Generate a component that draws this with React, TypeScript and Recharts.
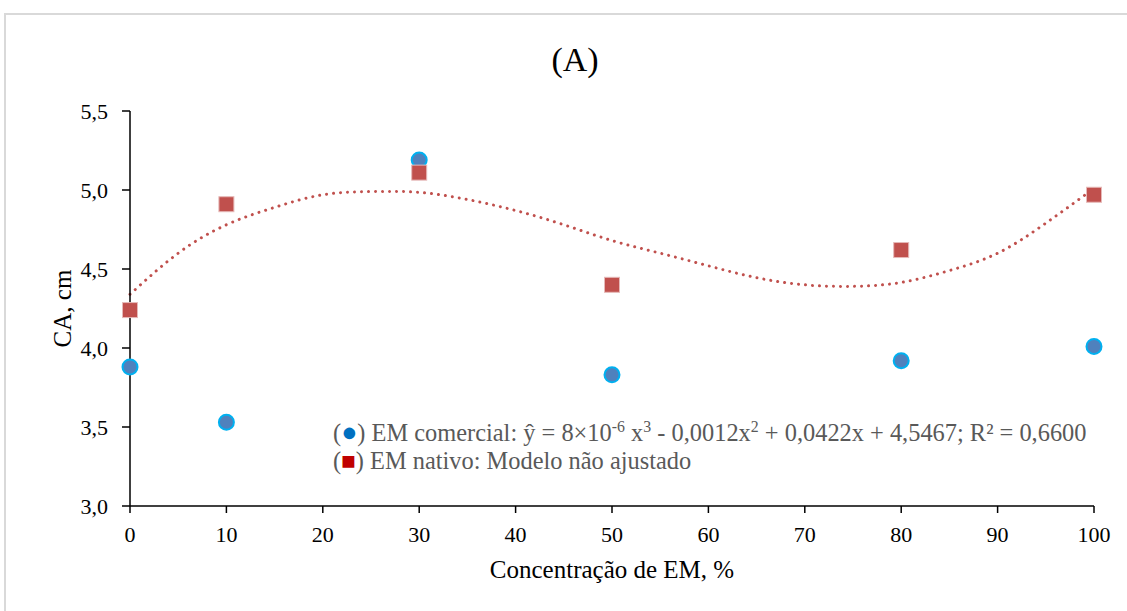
import { ComposedChart, Line, Scatter, XAxis, YAxis, Label } from 'recharts'

// doses tested (% EM)
const doses = [0, 10, 30, 50, 80, 100]
// CA (cm) per dose
const comercial = [3.88, 3.53, 5.19, 3.83, 3.92, 4.01]
const nativo = [4.24, 4.91, 5.11, 4.40, 4.62, 4.97]

// dotted trend curve
const trendX = [0, 5, 10, 15, 20, 25, 30, 35, 40, 45, 50, 55, 60, 65, 70, 75, 80, 85, 90, 95, 100]
const trendY = [4.34, 4.60, 4.78, 4.89, 4.97, 4.99, 4.985, 4.94, 4.87, 4.78, 4.68, 4.60, 4.52, 4.445, 4.40, 4.39, 4.415, 4.49, 4.60, 4.79, 5.01]

const xTicks = [0, 10, 20, 30, 40, 50, 60, 70, 80, 90, 100]
const yTicks = [3.0, 3.5, 4.0, 4.5, 5.0, 5.5]

const comercialData = doses.map((x, i) => ({ x, y: comercial[i] }))
const nativoData = doses.map((x, i) => ({ x, y: nativo[i] }))
const trendData = trendX.map((x, i) => ({ x, y: trendY[i] }))

const FONT = 'Liberation Serif, Times New Roman, serif'

const BlueDot = (props: any) => {
  const { cx, cy } = props
  return <circle cx={cx} cy={cy} r={7.5} fill="#4F81BD" stroke="#00B0F0" strokeWidth={2} />
}

const RedSquare = (props: any) => {
  const { cx, cy } = props
  return <rect x={cx - 7.5} y={cy - 7.5} width={15} height={15} fill="#C0504D" stroke="#E6B9B8" strokeWidth={1} />
}

const fmt = (v: number) => v.toFixed(1).replace('.', ',')

const supStyle = { fontSize: '0.65em', lineHeight: 0 }

export default function App() {
  return (
    <div style={{ position: 'absolute', left: 0, top: 0, width: 1127, height: 611, overflow: 'hidden', background: '#fff', fontFamily: FONT }}>
      <div style={{ position: 'absolute', left: 4, top: 13, width: 1140, height: 620, border: '2px solid #D9D9D9' }} />
      <ComposedChart width={1127} height={611} margin={{ top: 111, right: 33, bottom: 55, left: 20 }} style={{ position: 'absolute', left: 0, top: 0, fontFamily: FONT }}>
        <XAxis
          dataKey="x"
          type="number"
          domain={[0, 100]}
          ticks={xTicks}
          height={50}
          stroke="#000"
          strokeWidth={1.5}
          tickSize={7}
          tickMargin={13}
          tick={{ fill: '#000', fontSize: 22, fontFamily: FONT }}
        >
          <Label value="Concentração de EM, %" position="bottom" offset={4} style={{ fill: '#000', fontSize: 25, fontFamily: FONT }} />
        </XAxis>
        <YAxis
          type="number"
          domain={[3, 5.5]}
          ticks={yTicks}
          width={110}
          stroke="#000"
          strokeWidth={1.5}
          tickSize={8}
          tickMargin={14}
          tickFormatter={fmt}
          tick={{ fill: '#000', fontSize: 22, fontFamily: FONT }}
        >
          <Label value="CA, cm" angle={-90} position="insideLeft" offset={42} style={{ fill: '#000', fontSize: 25, fontFamily: FONT, textAnchor: 'middle' }} />
        </YAxis>
        <Line
          data={trendData}
          dataKey="y"
          type="natural"
          stroke="#C0504D"
          strokeWidth={3}
          strokeDasharray="0.01 7"
          strokeLinecap="round"
          dot={false}
          activeDot={false}
          isAnimationActive={false}
        />
        <Scatter data={comercialData} dataKey="y" shape={BlueDot} isAnimationActive={false} />
        <Scatter data={nativoData} dataKey="y" shape={RedSquare} isAnimationActive={false} />
      </ComposedChart>

      <div style={{ position: 'absolute', left: 0, width: 1150, top: 38, textAlign: 'center', fontSize: 34, lineHeight: '44px', color: '#000' }}>(A)</div>

      <div style={{ position: 'absolute', left: 333, top: 419, fontSize: 24.4, lineHeight: '28px', color: '#595959', whiteSpace: 'nowrap' }}>
        <div>
          (<span style={{ color: '#0070C0', fontSize: '1.1em', lineHeight: 0 }}>●</span>) EM comercial: ŷ = 8×10<sup style={supStyle}>-6</sup> x<sup style={supStyle}>3</sup> - 0,0012x<sup style={supStyle}>2</sup> + 0,0422x + 4,5467; R² = 0,6600
        </div>
        <div>
          (<span style={{ color: '#C00000' }}>■</span>) EM nativo: Modelo não ajustado
        </div>
      </div>
    </div>
  )
}
